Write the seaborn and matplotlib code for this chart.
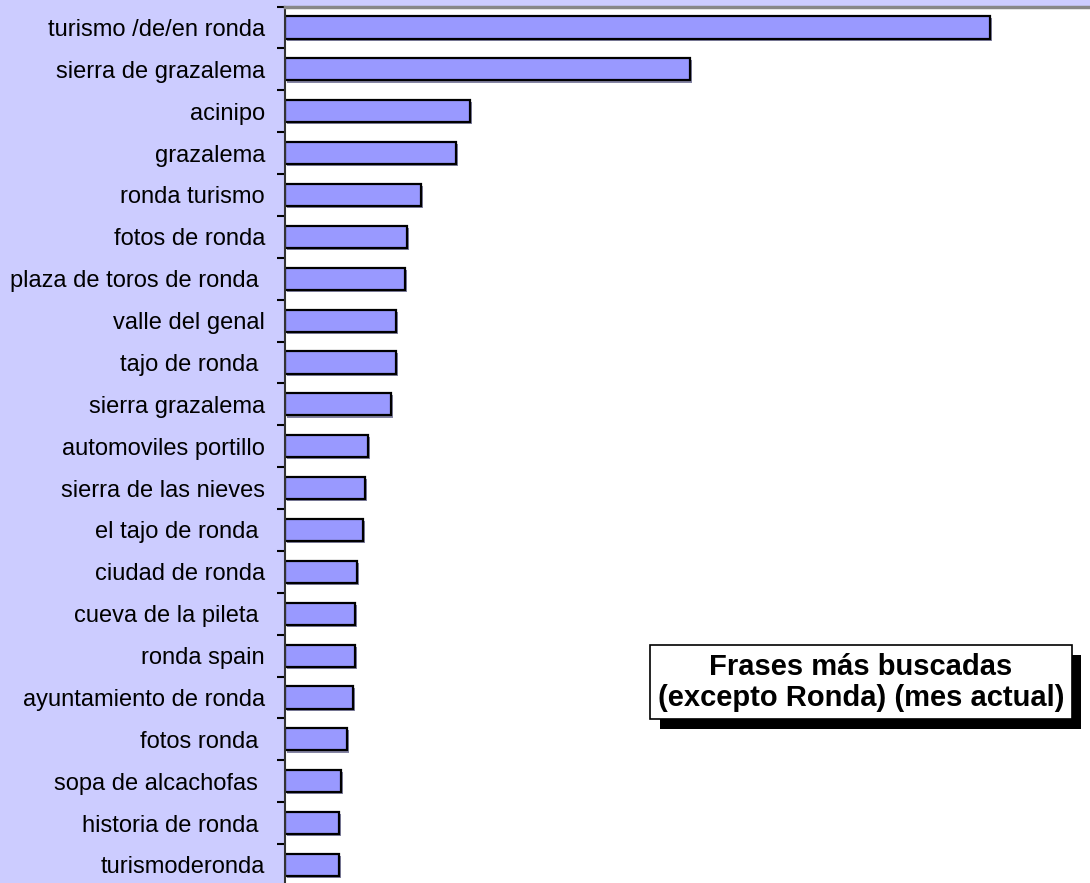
import pandas as pd
import matplotlib
matplotlib.use("Agg")
import matplotlib.pyplot as plt
import matplotlib.patheffects as pe
from matplotlib.ticker import FixedLocator
import seaborn as sns

# search phrases and their counts (relative units)
phrases = [
    "turismo /de/en ronda", "sierra de grazalema", "acinipo", "grazalema",
    "ronda turismo", "fotos de ronda", "plaza de toros de ronda ", "valle del genal",
    "tajo de ronda ", "sierra grazalema", "automoviles portillo", "sierra de las nieves",
    "el tajo de ronda ", "ciudad de ronda", "cueva de la pileta ", "ronda spain",
    "ayuntamiento de ronda", "fotos ronda ", "sopa de alcachofas ", "historia de ronda ",
    "turismoderonda",
]
counts = [705, 405, 185, 171, 136, 122, 120, 111, 111, 106,
          83, 80, 78, 72, 70, 70, 68, 62, 56, 54, 54]

title_text = "Frases más buscadas\n(excepto Ronda) (mes actual)"

df = pd.DataFrame({"phrase": phrases, "count": counts})

sns.set_theme(style="white")
plt.rcParams["font.family"] = ["Liberation Sans", "DejaVu Sans"]

fig = plt.figure(figsize=(10.9, 8.83), dpi=100)
fig.patch.set_facecolor("#CCCCFF")
ax = fig.add_axes([0.2615, 0.0, 0.7385, 0.9926])
ax.set_facecolor("white")

sns.barplot(data=df, y="phrase", x="count", orient="h", color="#9999FF",
            saturation=1, width=0.53, edgecolor="black", linewidth=1.6, ax=ax)

for bar in ax.patches:
    bar.set_path_effects([pe.SimplePatchShadow(offset=(1.5, -1.5), shadow_rgbFace="#333366", alpha=0.6),
                          pe.Normal()])

n = len(phrases)
ax.set_xlim(0, 805)
ax.set_ylim(n - 0.5 - 0.07, -0.5)

ax.set_xlabel("")
ax.set_ylabel("")
ax.set_xticks([])
ax.tick_params(axis="y", which="major", length=0, pad=14.5, labelsize=17, colors="black")
ax.yaxis.set_minor_locator(FixedLocator([i - 0.5 for i in range(n + 1)]))
ax.tick_params(axis="y", which="minor", length=6, width=1.5, color="black", direction="out", left=True)

for side in ["right", "bottom"]:
    ax.spines[side].set_visible(False)
ax.spines["top"].set_color("#888888")
ax.spines["top"].set_linewidth(2.5)
ax.spines["left"].set_color("#333333")
ax.spines["left"].set_linewidth(1.5)

t = ax.text(0.7155, 0.229, title_text, transform=ax.transAxes, ha="center", va="center",
            fontsize=21, fontweight="bold", color="black", linespacing=1.15,
            bbox=dict(boxstyle="square,pad=0.25", facecolor="white", edgecolor="black", linewidth=1.2))
t.get_bbox_patch().set_path_effects([pe.SimplePatchShadow(offset=(7, -7), shadow_rgbFace="black", alpha=1),
                                     pe.Normal()])

fig.savefig("out.png", dpi=100, facecolor=fig.get_facecolor())
